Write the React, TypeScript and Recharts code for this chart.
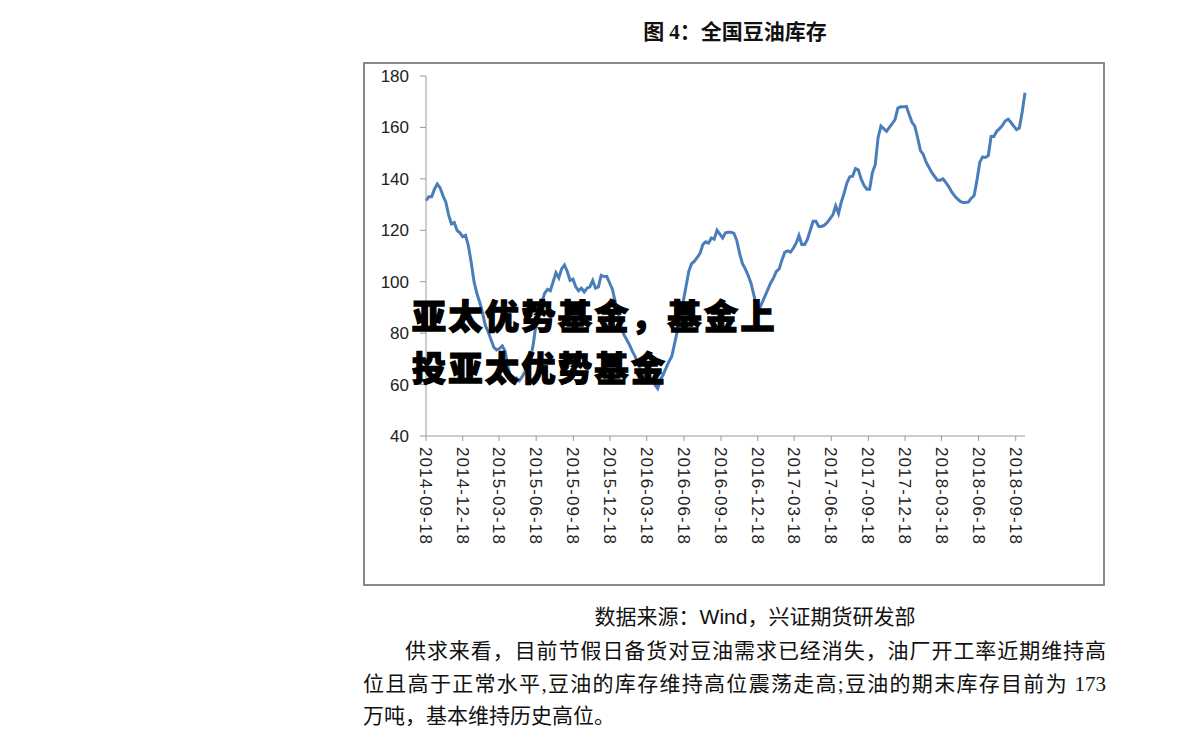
import React from "react";
import { LineChart, Line, XAxis, YAxis } from "recharts";

// weekly soybean oil inventory (10k tons), first point 2014-09-18
const START = "2014-09-18";

const dateTicks = [
  "2014-09-18", "2014-12-18", "2015-03-18", "2015-06-18", "2015-09-18",
  "2015-12-18", "2016-03-18", "2016-06-18", "2016-09-18", "2016-12-18",
  "2017-03-18", "2017-06-18", "2017-09-18", "2017-12-18", "2018-03-18",
  "2018-06-18", "2018-09-18",
];

const inventory = [
  131.5, 133, 133, 136, 138, 136.5, 133.5, 131, 126, 122.5,
  123, 120, 119, 117.5, 118, 114, 107.5, 100, 95.5, 92,
  88, 83, 80.5, 77.5, 74.5, 73.5, 74, 75, 73, 67,
  62.5, 61.5, 62.5, 61.5, 63, 65, 67.5, 70, 76, 84,
  89, 92, 95.5, 97, 96.5, 100, 103.5, 101.5, 105, 106.5,
  104, 100.5, 101, 98, 96.5, 97.5, 96, 97.5, 98, 100.5,
  97.5, 98, 102.5, 102, 102, 99.5, 97, 92, 88, 83,
  79.5, 77.5, 75.5, 73, 71, 68, 65.5, 63.5, 63, 62.5,
  62, 60, 58.5, 62, 64, 66.5, 69, 71, 76, 81,
  87, 92, 98, 104, 107, 108, 109.5, 111, 114.5, 115.5,
  115, 117, 116.5, 120, 118.5, 117, 119, 119.2, 119.2, 118.8,
  116, 111, 107, 105, 102.5, 99.5, 95, 90.5, 89.5, 92,
  94.5, 97, 99.5, 101.5, 104, 105, 108.5, 111.5, 112, 111.5,
  113, 115, 118, 114.5, 114.5, 116.5, 120, 123.5, 123.5, 121.5,
  121.5, 122, 123, 124.5, 126, 129.5, 126.5, 131, 134.5, 138.5,
  140.8, 141, 144, 143.5, 140, 137.5, 136, 136, 142.5, 145.5,
  156, 160.5, 159.5, 158.5, 160, 161.5, 163, 167.5, 168, 168,
  168.2, 165, 162, 160.5, 156, 151, 149.5, 146.5, 144.5, 142.5,
  141, 139.5, 139.5, 140, 138.5, 137, 135, 133.5, 132.3, 131.3,
  130.8, 130.8, 131, 132.5, 133.5, 139.5, 146.5, 148.5, 148.3, 149,
  156.5, 156.5, 158.5, 159.5, 160.8, 162.5, 163.2, 162, 160.5, 159.2,
  159.8, 166, 173.5,
];

const yTicks = [40, 60, 80, 100, 120, 140, 160, 180];

const DAY = 86400000;
const tickDays = dateTicks.map((t) => Math.round((Date.parse(t) - Date.parse(START)) / DAY));
const data = inventory.map((v, i) => ({ d: i * 7, v }));

const sans = "'Liberation Sans', Arial, sans-serif";
const cjk = "'Liberation Serif', 'Noto Sans CJK SC', serif";

const DateTick = (props: any) => {
  const { x, y, payload } = props;
  const idx = tickDays.indexOf(payload.value);
  return (
    <text
      x={x}
      y={y}
      transform={`rotate(90, ${x}, ${y})`}
      dy="0.35em"
      textAnchor="start"
      fontSize={17}
      letterSpacing={1.1}
      fill="#222"
      fontFamily={sans}
    >
      {idx >= 0 ? dateTicks[idx] : ""}
    </text>
  );
};

const abs = (left: number, top: number, extra: React.CSSProperties = {}): React.CSSProperties => ({
  position: "absolute",
  left,
  top,
  ...extra,
});

const watermarkLines = ["亚太优势基金，基金上", "投亚太优势基金"];

export default function App() {
  return (
    <div style={{ position: "absolute", left: 0, top: 0, width: 1191, height: 748, background: "#fff", overflow: "hidden" }}>
      <div
        style={abs(0, 18, {
          width: 1470,
          textAlign: "center",
          fontSize: 21,
          fontWeight: 700,
          fontFamily: cjk,
          color: "#111",
          lineHeight: "28px",
        })}
      >
        图 4：全国豆油库存
      </div>

      <div style={abs(363, 62, { width: 738, height: 520, border: "2px solid #8a8a8a" })} />

      <div style={abs(363, 62)}>
        <LineChart width={740} height={522} data={data} margin={{ top: 14, right: 78, bottom: 28, left: 0 }}>
          <XAxis
            dataKey="d"
            type="number"
            domain={[0, 1484]}
            ticks={tickDays}
            interval={0}
            tick={<DateTick />}
            tickSize={5}
            tickMargin={6}
            height={120}
            stroke="#9a9a9a"
          />
          <YAxis
            type="number"
            domain={[40, 180]}
            ticks={yTicks}
            interval={0}
            width={63}
            tickSize={6}
            tickMargin={11}
            stroke="#9a9a9a"
            tick={{ fill: "#222", fontSize: 17, fontFamily: sans }}
          />
          <Line
            dataKey="v"
            type="linear"
            stroke="#4a7ebb"
            strokeWidth={3}
            dot={false}
            isAnimationActive={false}
          />
        </LineChart>
      </div>

      {watermarkLines.map((t, i) => (
        <div
          key={i}
          style={abs(412, 295 + i * 52, {
            fontSize: 34,
            fontWeight: 900,
            letterSpacing: 2.5,
            lineHeight: "40px",
            fontFamily: "'Noto Sans CJK SC', sans-serif",
            whiteSpace: "nowrap",
            color: "#000",
            WebkitTextStroke: "1.3px #000",
          })}
        >
          {t}
        </div>
      ))}

      <div
        style={abs(420, 603, {
          width: 670,
          textAlign: "center",
          fontSize: 21,
          fontFamily: "'Liberation Sans', 'Noto Sans CJK SC', sans-serif",
          color: "#111",
          lineHeight: "28px",
        })}
      >
        数据来源：Wind，兴证期货研发部
      </div>

      <div style={abs(405, 636, { width: 701, fontSize: 21, fontFamily: cjk, color: "#111", lineHeight: "30px", textAlign: "justify", textAlignLast: "justify" as any, whiteSpace: "nowrap" })}>
        供求来看，目前节假日备货对豆油需求已经消失，油厂开工率近期维持高
      </div>
      <div style={abs(363, 669, { width: 743, fontSize: 21, fontFamily: cjk, color: "#111", lineHeight: "30px", textAlign: "justify", textAlignLast: "justify" as any })}>
        位且高于正常水平,豆油的库存维持高位震荡走高;豆油的期末库存目前为 173
      </div>
      <div style={abs(363, 701, { fontSize: 21, fontFamily: cjk, color: "#111", lineHeight: "30px" })}>
        万吨，基本维持历史高位。
      </div>
    </div>
  );
}
